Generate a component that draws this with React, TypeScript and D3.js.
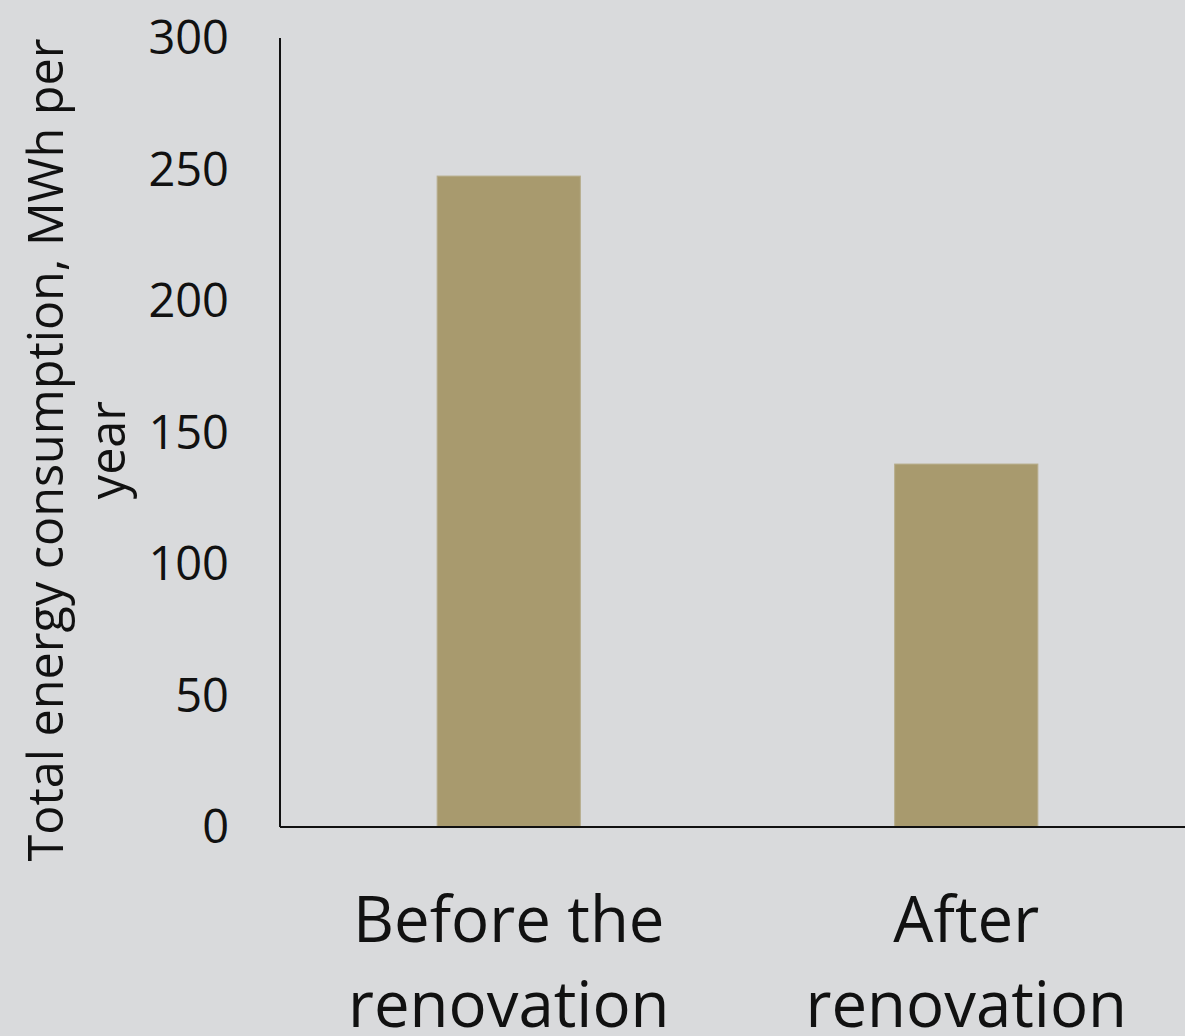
import React from "react";
import * as d3 from "d3";

const categories: string[][] = [
  ["Before the", "renovation"],
  ["After", "renovation"],
];
const values: number[] = [247.5, 138];
const yTicks: number[] = [0, 50, 100, 150, 200, 250, 300];
const yLabelLines: string[] = ["Total energy consumption, MWh per", "year"];

const App = (): React.JSX.Element => {
  const width = 1185;
  const height = 1036;
  const marginLeft = 280;
  const marginTop = 38;
  const plotBottom = 827;

  const x = d3
    .scaleBand<number>()
    .domain(values.map((_d, i) => i))
    .range([marginLeft, 1195])
    .paddingInner(0.687)
    .paddingOuter(0.3435);
  const y = d3.scaleLinear([0, 300], [plotBottom, marginTop]);

  const font = "'Open Sans', 'Noto Sans', sans-serif";

  return (
    <svg
      width={width}
      height={height}
      style={{ position: "absolute", left: 0, top: 0, display: "block" }}
    >
      <rect x={0} y={0} width={width} height={height} fill="#d9dadc" />
      <g>
        {values.map((v, i) => (
          <rect
            key={i}
            x={x(i)}
            y={y(v)}
            width={x.bandwidth()}
            height={y(0) - y(v)}
            fill="#a89a6e"
            stroke="#b7ad8c"
            strokeWidth={1}
          />
        ))}
      </g>
      <line x1={marginLeft} x2={marginLeft} y1={y(300)} y2={y(0)} stroke="#111" strokeWidth={2} />
      <line x1={marginLeft} x2={width} y1={y(0)} y2={y(0)} stroke="#111" strokeWidth={2} />
      <g fontFamily={font} fontSize={47} fill="#111" textAnchor="end">
        {yTicks.map((t) => (
          <text key={t} x={229} y={y(t) + 16}>
            {t}
          </text>
        ))}
      </g>
      <g fontFamily={font} fontSize={63.5} fill="#111" textAnchor="middle">
        {categories.map((lines, i) => (
          <text key={i} x={(x(i) as number) + x.bandwidth() / 2} y={942}>
            {lines.map((l, j) => (
              <tspan key={j} x={(x(i) as number) + x.bandwidth() / 2} dy={j === 0 ? 0 : 85}>
                {l}
              </tspan>
            ))}
          </text>
        ))}
      </g>
      <g fontFamily={font} fontSize={48.5} fill="#111" textAnchor="middle" transform="translate(0,450) rotate(-90)">
        {yLabelLines.map((l, j) => (
          <text key={j} x={0} y={63 + j * 62}>
            {l}
          </text>
        ))}
      </g>
    </svg>
  );
};

export default App;
